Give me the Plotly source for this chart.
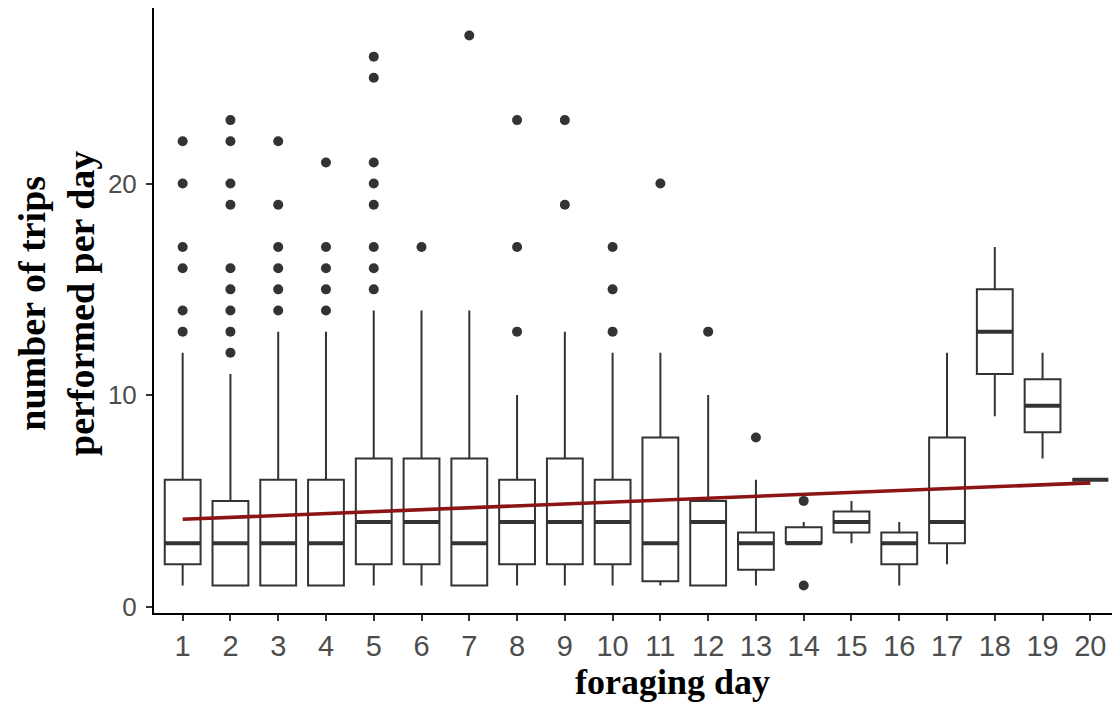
import plotly.graph_objects as go

days = list(range(1, 21))
q1 = [2, 1, 1, 1, 2, 2, 1, 2, 2, 2, 1.2, 1, 1.75, 3, 3.5, 2, 3, 11, 8.25, 6]
median = [3, 3, 3, 3, 4, 4, 3, 4, 4, 4, 3, 4, 3, 3, 4, 3, 4, 13, 9.5, 6]
q3 = [6, 5, 6, 6, 7, 7, 7, 6, 7, 6, 8, 5, 3.5, 3.75, 4.5, 3.5, 8, 15, 10.75, 6]
lower = [1, 1, 1, 1, 1, 1, 1, 1, 1, 1, 1, 1, 1, 3, 3, 1, 2, 9, 7, 6]
upper = [12, 11, 13, 13, 14, 14, 14, 10, 13, 12, 12, 10, 6, 4, 5, 4, 12, 17, 12, 6]

outliers = {
    1: [13, 14, 16, 17, 20, 22],
    2: [12, 13, 14, 15, 16, 19, 20, 22, 23],
    3: [14, 15, 16, 17, 19, 22],
    4: [14, 15, 16, 17, 21],
    5: [15, 16, 17, 19, 20, 21, 25, 26],
    6: [17],
    7: [27],
    8: [13, 17, 23],
    9: [19, 23],
    10: [13, 15, 17],
    11: [20],
    12: [13],
    13: [8],
    14: [1, 5],
}

trend_days = [1, 20]
trend_values = [4.13, 5.85]

y_ticks = [0, 10, 20]
x_tick_labels = [str(d) for d in days]

BOX_W = 0.75
DARK = "#333333"

# page has an 8px body margin; figure is drawn at an offset of (8, 8)
OFF = 8
W, H = 1120 - OFF, 704 - OFF
L, R, T, B = 154 - OFF, 1119 - OFF, 8 - OFF, 613 - OFF  # plot area

fig = go.Figure()

ox, oy = [], []
for d, vals in outliers.items():
    for v in vals:
        ox.append(d)
        oy.append(v)
fig.add_trace(go.Scatter(x=ox, y=oy, mode="markers",
                         marker=dict(color=DARK, size=10), showlegend=False,
                         hoverinfo="skip", cliponaxis=False))

fig.add_trace(go.Box(x=days, q1=q1, median=median, q3=q3,
                     lowerfence=lower, upperfence=upper,
                     width=BOX_W, whiskerwidth=0,
                     fillcolor="white", line=dict(color=DARK, width=2),
                     boxpoints=False, showlegend=False))

mx, my = [], []
for d, m in zip(days, median):
    mx += [d - BOX_W / 2, d + BOX_W / 2, None]
    my += [m, m, None]
fig.add_trace(go.Scatter(x=mx, y=my, mode="lines",
                         line=dict(color=DARK, width=4), showlegend=False,
                         hoverinfo="skip"))

fig.add_trace(go.Scatter(x=trend_days, y=trend_values, mode="lines",
                         line=dict(color="#8B1414", width=3.6),
                         showlegend=False))

fig.update_layout(
    width=W, height=H,
    margin=dict(l=L, r=W - R, t=T, b=H - B, autoexpand=False),
    plot_bgcolor="white", paper_bgcolor="white",
    xaxis=dict(range=[0.4, 20.6], tickmode="array", tickvals=days,
               ticktext=x_tick_labels, showgrid=False, zeroline=False,
               automargin=False,
               showline=True, linecolor="black", linewidth=2,
               ticks="outside", ticklen=6, tickwidth=1.5, tickcolor=DARK,
               tickfont=dict(family="Liberation Sans", size=29, color="#4D4D4D")),
    yaxis=dict(range=[-0.3, 28.3], tickmode="array", tickvals=y_ticks,
               showgrid=False, zeroline=False, automargin=False,
               showline=True, linecolor="black", linewidth=2,
               ticks="outside", ticklen=6, tickwidth=1.5, tickcolor=DARK,
               ticklabelstandoff=4,
               tickfont=dict(family="Liberation Sans", size=26, color="#4D4D4D")),
    annotations=[
        dict(text="<b>foraging day</b>", xref="paper", yref="paper",
             x=(672 - OFF - L) / (R - L), y=-(H - B) / (B - T),
             xanchor="center", yanchor="bottom", showarrow=False,
             font=dict(family="Liberation Serif", size=36, color="black")),
        dict(text="<b>number of trips<br>performed per day</b>",
             xref="paper", yref="paper",
             x=-(L - (56 - OFF)) / (R - L), y=(B - (304 - OFF)) / (B - T),
             xanchor="center", yanchor="middle", showarrow=False,
             textangle=-90,
             font=dict(family="Liberation Serif", size=38, color="black")),
    ],
)

fig.write_html("out.html")
